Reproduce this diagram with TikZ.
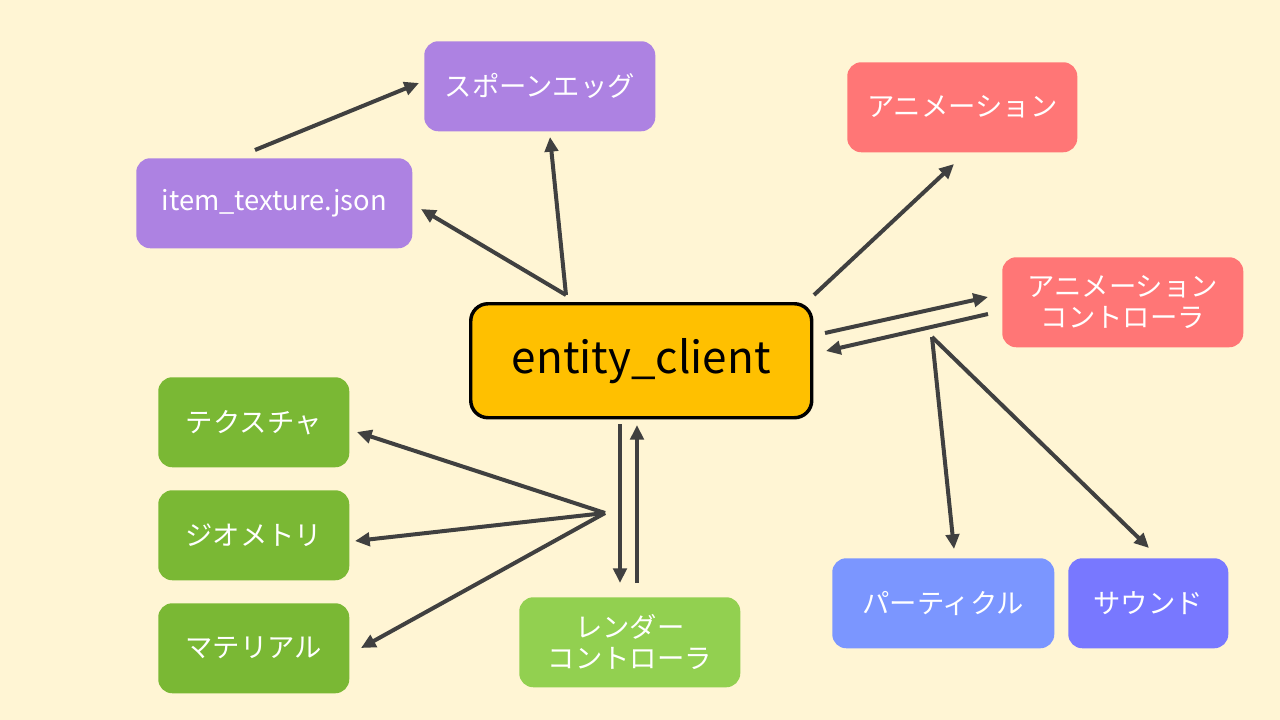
\documentclass[tikz,border=0pt]{standalone}
\usepackage{fontspec}
\setmainfont{Noto Sans CJK JP}
\usetikzlibrary{arrows.meta}
\definecolor{bg}{HTML}{FFF5D4}
\definecolor{purp}{HTML}{AD82E2}
\definecolor{redb}{HTML}{FF7676}
\definecolor{greenb}{HTML}{7AB834}
\definecolor{lgreen}{HTML}{92D050}
\definecolor{blueb}{HTML}{7B96FF}
\definecolor{violb}{HTML}{7878FF}
\definecolor{core}{HTML}{FFC000}
\definecolor{arr}{HTML}{404040}
\tikzset{
  box/.style={rounded corners=10.5pt, inner sep=0pt, text=white, font=\fontsize{20.5}{23.5}\selectfont, align=center, anchor=north west},
  link/.style={draw=arr, line width=3pt, -{Triangle[length=11pt,width=10pt]}},
}
\begin{document}
\begin{tikzpicture}[x=0.75pt,y=-0.75pt]
\fill[bg] (0,0) rectangle (1280,720);
\useasboundingbox (0,0) rectangle (1280,720);
% boxes
\node[box, fill=purp, minimum width=231*0.75pt, minimum height=90*0.75pt] (egg) at (424,41) {スポーンエッグ};
\node[box, fill=purp, minimum width=276*0.75pt, minimum height=90*0.75pt] (item) at (136,158) {item\_texture.json};
\node[box, fill=redb, minimum width=230*0.75pt, minimum height=90*0.75pt] (anim) at (847,62) {アニメーション};
\node[box, fill=redb, minimum width=241*0.75pt, minimum height=90*0.75pt] (actrl) at (1002,257) {アニメーション\\コントローラ};
\node[box, fill=greenb, minimum width=191*0.75pt, minimum height=90*0.75pt] (tex) at (158,377) {テクスチャ};
\node[box, fill=greenb, minimum width=191*0.75pt, minimum height=90*0.75pt] (geo) at (158,490) {ジオメトリ};
\node[box, fill=greenb, minimum width=191*0.75pt, minimum height=90*0.75pt] (mat) at (158,603) {マテリアル};
\node[box, fill=lgreen, minimum width=221*0.75pt, minimum height=90*0.75pt] (rctrl) at (519,597) {レンダー\\コントローラ};
\node[box, fill=blueb, minimum width=222*0.75pt, minimum height=90*0.75pt] (part) at (832,558) {パーティクル};
\node[box, fill=violb, minimum width=160*0.75pt, minimum height=90*0.75pt] (snd) at (1068,558) {サウンド};
\node[box, fill=core, draw=black, line width=2.6pt, rounded corners=13pt, text=black, font=\fontsize{33}{38}\selectfont, minimum width=341*0.75pt, minimum height=114*0.75pt] (ec) at (469,302) {entity\_client};
% connector end points
\coordinate (a1) at (255,150); \coordinate (a1e) at (419,83);
\coordinate (hub) at (566,295); \coordinate (itemIn) at (421,209); \coordinate (eggIn) at (550,137);
\coordinate (ecA) at (814,295); \coordinate (animIn) at (954,164);
\coordinate (ecB) at (825,333); \coordinate (actrlIn) at (988,297);
\coordinate (actrlOut) at (988,314); \coordinate (ecIn) at (826,351);
\coordinate (fork) at (932,337); \coordinate (partIn) at (954,549); \coordinate (sndIn) at (1149,548);
\coordinate (rhub) at (605,513); \coordinate (texIn) at (357,432); \coordinate (geoIn) at (355,541); \coordinate (matIn) at (361,648);
\coordinate (ecC) at (620,424); \coordinate (rIn) at (620,583);
\coordinate (rOut) at (637,583); \coordinate (ecD) at (637,425);
% connectors
\draw[link] (a1) -- (a1e);
\draw[link] (hub) -- (itemIn);
\draw[link] (hub) -- (eggIn);
\draw[link] (ecA) -- (animIn);
\draw[link] (ecB) -- (actrlIn);
\draw[link] (actrlOut) -- (ecIn);
\draw[link] (fork) -- (partIn);
\draw[link] (fork) -- (sndIn);
\draw[link] (rhub) -- (texIn);
\draw[link] (rhub) -- (geoIn);
\draw[link] (rhub) -- (matIn);
\draw[link] (ecC) -- (rIn);
\draw[link] (rOut) -- (ecD);
\end{tikzpicture}
\end{document}
